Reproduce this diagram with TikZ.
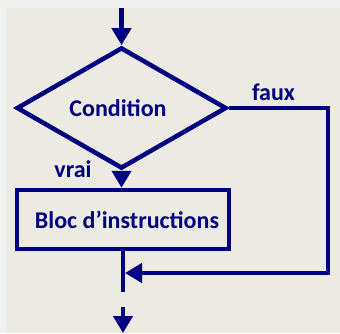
\documentclass[tikz,border=0pt]{standalone}
\usepackage{fontspec}
\setmainfont{Carlito}
\usetikzlibrary{shapes.geometric,arrows.meta}
\definecolor{navy}{HTML}{000080}
\definecolor{outerbg}{HTML}{F0F0F0}
\definecolor{panel}{HTML}{EDEBE1}
\tikzset{
  flow/.style={draw=navy,line width=4.5pt},
  arr/.style={flow,-{Triangle[width=19pt,length=17pt]}},
  lbl/.style={text=navy,font=\fontsize{24}{28}\selectfont\bfseries,inner sep=0pt},
}
\begin{document}
\begin{tikzpicture}[x=1pt,y=-1pt]
\useasboundingbox (0,0) rectangle (340,333);
\fill[outerbg] (0,0) rectangle (340,333);
\fill[panel] (6,8) rectangle (340,333);
\node[flow,lbl,diamond,minimum width=210pt,minimum height=78pt] (cond) at (121.5,108) {Condition\hspace*{7pt}};
\node[flow,lbl,rectangle,minimum width=212pt,minimum height=59pt] (bloc) at (123,219.5) {\hspace*{8pt}Bloc d’instructions};
\node[lbl,anchor=base] (faux) at (273.5,100) {faux};
\node[lbl,anchor=base] (vrai) at (73,177) {vrai};
\coordinate (start) at (121.5,8);
\coordinate (rtop) at (328,108);
\coordinate (rbot) at (328,273);
\coordinate (merge) at (125,273);
\coordinate (cut) at (123,292);
\coordinate (resume) at (123,307);
\coordinate (finish) at (123,333);
\draw[arr] (start) -- (cond.north);
\draw[arr] (cond.south) -- (cond.south |- bloc.north);
\draw[arr] (cond.east) -- (rtop) -- (rbot) -- (merge);
\draw[flow] (bloc.south) -- (cut);
\draw[arr] (resume) -- (finish);
\end{tikzpicture}
\end{document}
